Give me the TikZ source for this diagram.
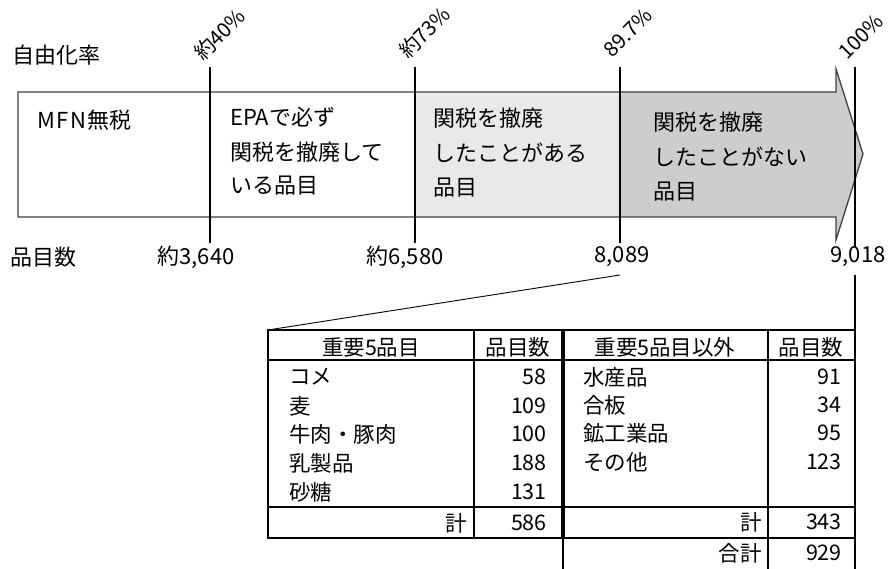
\documentclass[tikz,border=0pt]{standalone}
\usepackage{fontspec}
\setmainfont{Noto Sans CJK JP}
\definecolor{lightfill}{RGB}{233,233,235}
\definecolor{darkfill}{RGB}{204,205,207}
\definecolor{outline}{RGB}{64,64,64}
\tikzset{
  boxline/.style={draw=outline, line width=1.3pt, line join=miter},
  tickline/.style={draw=black, line width=1.7pt},
  thin/.style={draw=black, line width=0.9pt},
  boxtext/.style={anchor=west, inner sep=0pt, font=\fontsize{22}{24}\selectfont},
  axislbl/.style={inner sep=0pt, font=\fontsize{22}{24}\selectfont},
  pctlbl/.style={inner sep=0pt, rotate=45, anchor=base west, font=\fontsize{20.5}{24}\selectfont},
  cell/.style={inner sep=0pt, font=\fontsize{21.5}{24}\selectfont},
  tabline/.style={draw=black, line width=1.6pt},
  midline/.style={draw=black, line width=3.2pt},
}
\begin{document}
\begin{tikzpicture}[x=1pt,y=-1pt]
\useasboundingbox (0,0) rectangle (888,569);
% bar
\fill[lightfill] (415,92) rectangle (620,217);
\fill[darkfill] (620,92) -- (836,92) -- (836,69) -- (863,154) -- (836,240) -- (836,217) -- (620,217) -- cycle;
\draw[boxline] (18,92) -- (836,92) -- (836,69) -- (863,154) -- (836,240) -- (836,217) -- (18,217) -- cycle;
% percentage labels
\node[pctlbl] (p40) at (203,62) {約40\%};
\node[pctlbl] (p73) at (408,60) {約73\%};
\node[pctlbl] (p90) at (612,59) {89.7\%};
\node[pctlbl] (p100) at (847,61) {100\%};
% item count labels
\node[axislbl] (n40) at (196,257) {約3,640};
\node[axislbl] (n73) at (405,257) {約6,580};
\node[axislbl] (n90) at (622,257) {8,089};
\node[axislbl] (n100) at (858,257) {9,018};
\node[axislbl, anchor=west] (rate) at (12,55) {自由化率};
\node[axislbl, anchor=west] (cnt) at (10,257) {品目数};
% tick lines
\coordinate (t40a) at (210,67);  \coordinate (t40b) at (210,243);
\coordinate (t73a) at (415,67);  \coordinate (t73b) at (415,243);
\coordinate (t90a) at (620,67);  \coordinate (t90b) at (620,243);
\coordinate (t100a) at (855,67); \coordinate (t100b) at (855,247);
\draw[tickline] (t40a) -- (t40b);
\draw[tickline] (t73a) -- (t73b);
\draw[tickline] (t90a) -- (t90b);
\draw[tickline] (t100a) -- (t100b);
% box texts
\node[boxtext] (b1) at (37,120) {M\kern1.5pt F\kern1.5pt N\kern1pt 無税};
\node[boxtext] (b2a) at (230,117) {EPAで必ず};
\node[boxtext] (b2b) at (230,152) {関税を撤廃して};
\node[boxtext] (b2c) at (230,186) {いる品目};
\node[boxtext] (b3a) at (433,118) {関税を撤廃};
\node[boxtext] (b3b) at (433,153) {したことがある};
\node[boxtext] (b3c) at (433,188) {品目};
\node[boxtext] (b4a) at (653,122) {関税を撤廃};
\node[boxtext] (b4b) at (653,157) {したことがない};
\node[boxtext] (b4c) at (653,192) {品目};
% table corners
\coordinate (tl) at (268,330);
\coordinate (tr) at (855,330);
\coordinate (c90) at (620,275);
\coordinate (c100) at (855,275);
\draw[thin] (c90) -- (tl);
\draw[tabline] (c100) -- (tr);
% table grid
\draw[tabline] (268,330) -- (855,330);
\draw[tabline] (268,360) -- (855,360);
\draw[tabline] (268,507) -- (855,507);
\draw[tabline] (268,538) -- (855,538);
\draw[tabline] (268,329.2) -- (268,538.8);
\draw[tabline] (474,330) -- (474,538);
\draw[midline] (563,329.2) -- (563,538);
\draw[tabline] (563,538) -- (563,569);
\draw[tabline] (768,330) -- (768,569);
\draw[tabline] (855,330) -- (855,569);
% header
\node[cell] (h1) at (371,347) {重要5品目};
\node[cell] (h2) at (518,347) {品目数};
\node[cell] (h3) at (665,347) {重要5品目以外};
\node[cell] (h4) at (811,347) {品目数};
% left rows
\node[cell, anchor=west] (l1) at (289,377) {コメ};
\node[cell, anchor=west] (l2) at (289,406) {麦};
\node[cell, anchor=west] (l3) at (289,434) {牛肉・豚肉};
\node[cell, anchor=west] (l4) at (289,463) {乳製品};
\node[cell, anchor=west] (l5) at (289,492) {砂糖};
\node[cell, anchor=east] (v1) at (547,377) {58};
\node[cell, anchor=east] (v2) at (547,406) {109};
\node[cell, anchor=east] (v3) at (547,434) {100};
\node[cell, anchor=east] (v4) at (547,463) {188};
\node[cell, anchor=east] (v5) at (547,492) {131};
\node[cell, anchor=east] (ls) at (467,523) {計};
\node[cell, anchor=east] (lv) at (547,523) {586};
% right rows
\node[cell, anchor=west] (r1) at (583,377) {水産品};
\node[cell, anchor=west] (r2) at (583,405) {合板};
\node[cell, anchor=west] (r3) at (583,433) {鉱工業品};
\node[cell, anchor=west] (r4) at (583,462) {その他};
\node[cell, anchor=east] (w1) at (842,377) {91};
\node[cell, anchor=east] (w2) at (842,405) {34};
\node[cell, anchor=east] (w3) at (842,433) {95};
\node[cell, anchor=east] (w4) at (842,462) {123};
\node[cell, anchor=east] (rs) at (762,522) {計};
\node[cell, anchor=east] (rv) at (842,522) {343};
\node[cell, anchor=east] (gs) at (762,553) {合計};
\node[cell, anchor=east] (gv) at (842,553) {929};
\end{tikzpicture}
\end{document}
